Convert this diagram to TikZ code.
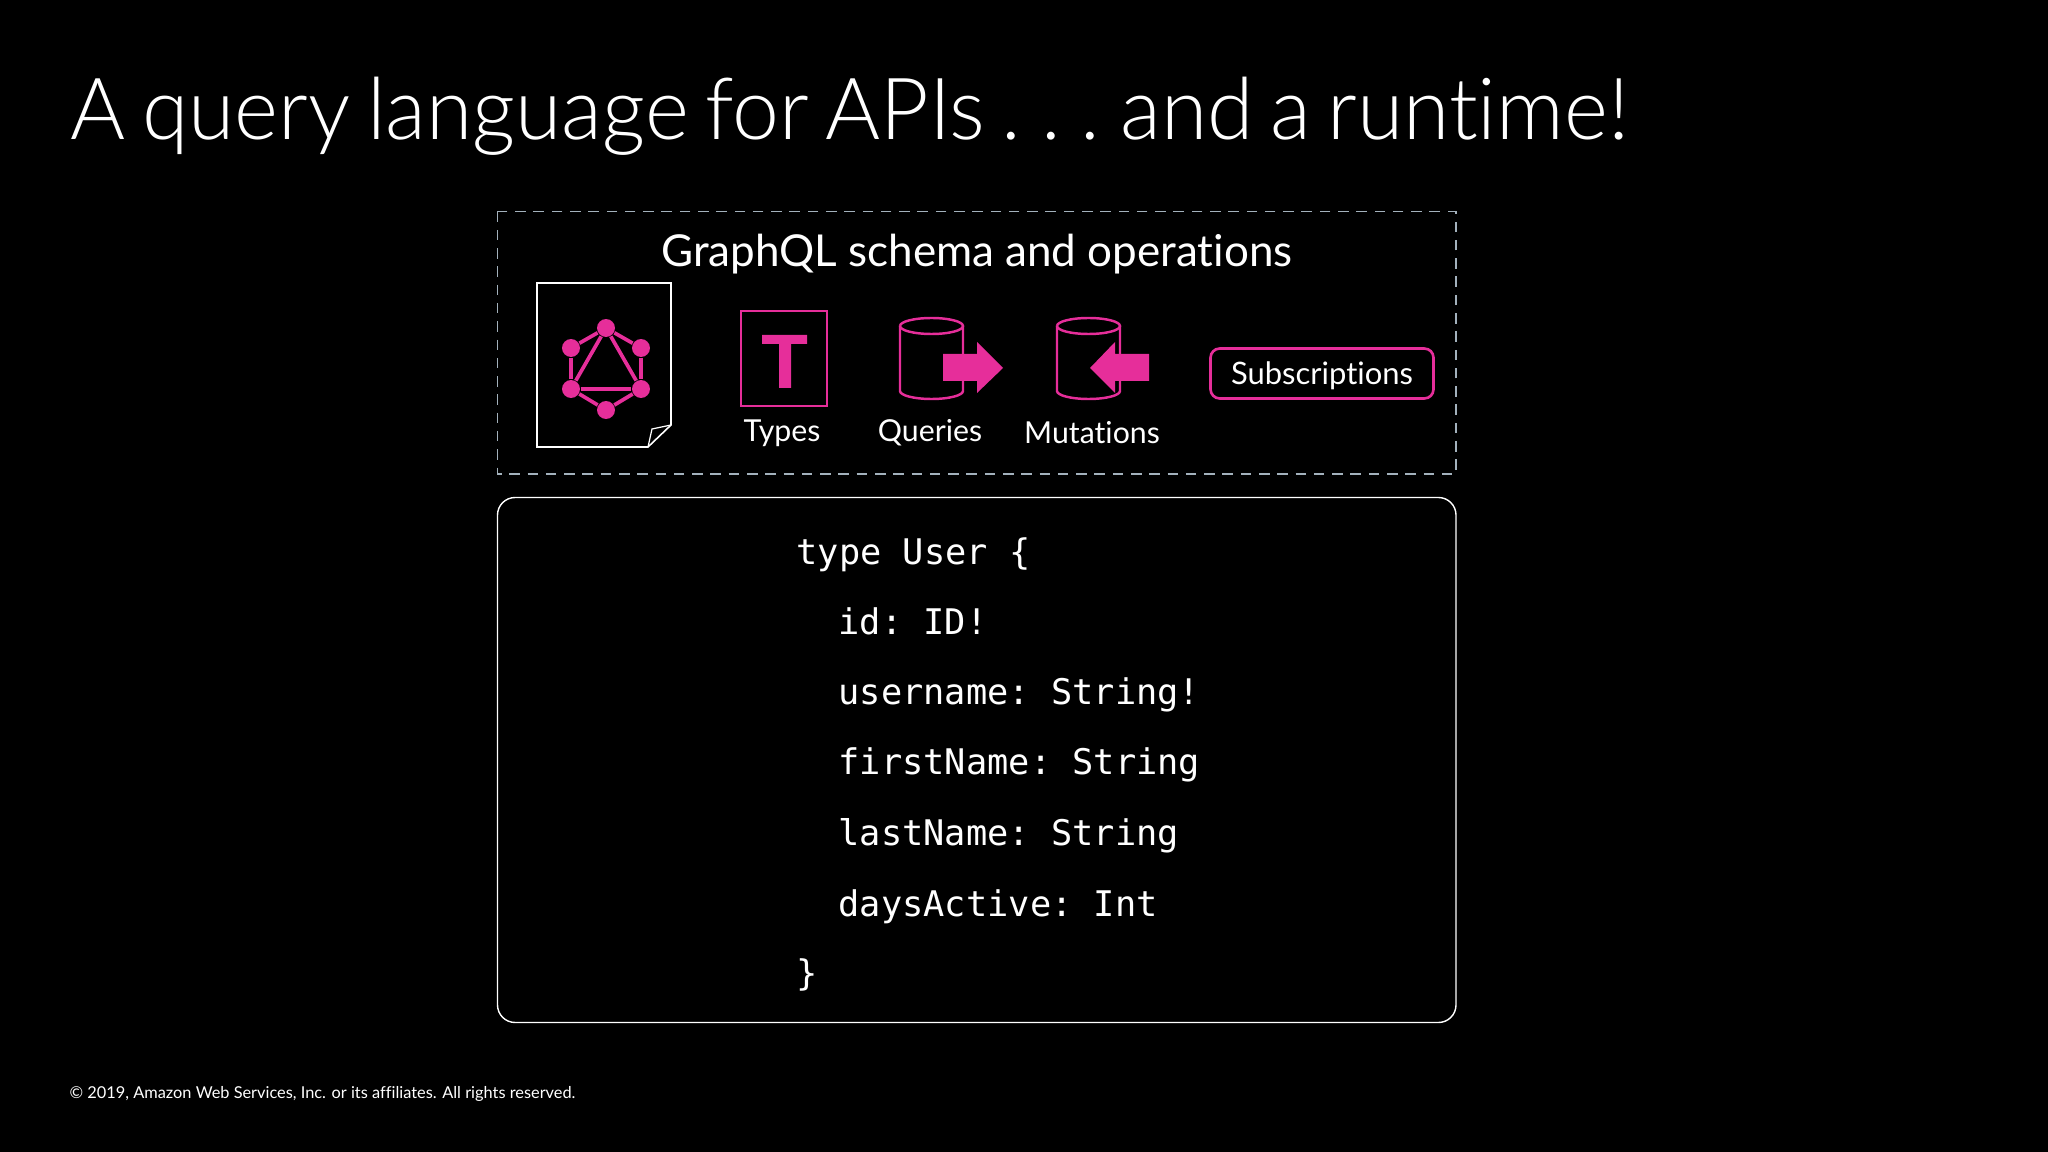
\documentclass[tikz,border=0pt]{standalone}
\usepackage{fontspec}
\setmainfont{Lato}[Ligatures=NoCommon]
\newfontfamily\titlefont{Lato Light}[Ligatures=NoCommon,FakeStretch=0.98,WordSpace=0.72]
\setmonofont{DejaVu Sans Mono}
\definecolor{gqlpink}{HTML}{E62E9A}
\definecolor{dashgray}{HTML}{A3B1BC}
\tikzset{
    dot/.style={circle,fill=gqlpink,inner sep=0pt,minimum size=5.1pt},
    iconlabel/.style={text=white,font=\fontsize{8.6}{10}\selectfont},
    codeline/.style={text=white,anchor=base west,inner sep=0pt,font=\ttfamily\fontsize{10.04}{12}\selectfont},
    spoke/.style={draw=gqlpink,line width=1.05pt},
    cylline/.style={draw=gqlpink,line width=0.7pt},
}
\begin{document}
\begin{tikzpicture}[x=0.01cm,y=-0.01cm]
        \useasboundingbox (0,0) rectangle (2048,1152);
        \fill[black] (0,0) rectangle (2048,1152);
        \node (title) [anchor=base west,inner sep=0pt,text=white,font=\titlefont\fontsize{24.4}{30}\selectfont] at (70,140) {A query language for APIs .\kern-1.2pt{} .\kern-1.2pt{} .\kern-1.2pt{} and a runtime!};
        \node (footer) [anchor=base west,inner sep=0pt,text=white,font=\fontsize{4.65}{6}\selectfont] at (69,1098) {© 2019, Amazon Web Services, Inc. or its affiliates. All rights reserved.};

        \draw[dashgray,dashed,line width=0.45pt,dash pattern=on 3pt off 2.2pt](497.5,211.5) rectangle (1456,474);
        \node (heading) [text=white,font=\fontsize{12.5}{14}\selectfont] at (977,254) {GraphQL schema and operations};

        \draw[white,line width=0.45pt](537,283)--(671,283)--(671,425)--(648,447)--(537,447)--cycle;
        \draw[white,line width=0.35pt](671,425)--(652,429)--(648,447);

        \node (top) [dot] at (606,328) {};
        \node (upleft) [dot] at (571,348) {};
        \node (upright) [dot] at (641,348) {};
        \node (lowleft) [dot] at (571,389) {};
        \node (lowright) [dot] at (641,389) {};
        \node (bottom) [dot] at (606,410) {};
        \draw[spoke](top)--(upright);
        \draw[spoke](upright)--(lowright);
        \draw[spoke](lowright)--(bottom);
        \draw[spoke](bottom)--(lowleft);
        \draw[spoke](lowleft)--(upleft);
        \draw[spoke](upleft)--(top);
        \draw[spoke](top)--(lowleft);
        \draw[spoke](lowleft)--(lowright);
        \draw[spoke](lowright)--(top);

        \draw[gqlpink,line width=0.7pt](741,311) rectangle (827,406);
        \fill[gqlpink](762,335)--(807,335)--(807,344)--(791,344)--(791,388)--(779,388)--(779,344)--(762,344)--cycle;
        \node (types) [iconlabel] at (782,433) {Types};

        \draw[cylline](900,326) arc (180:0:31.5 and 8) arc (0:-180:31.5 and 8);
        \draw[cylline](900,326)--(900,391) arc (180:0:31.5 and 8)--(963,326);
        \fill[gqlpink](943,354)--(977,354)--(977,342)--(1003,368)--(977,393)--(977,381)--(943,381)--cycle;
        \node (queries) [iconlabel] at (930,433) {Queries};

        \draw[cylline](1057,326) arc (180:0:31.5 and 8) arc (0:-180:31.5 and 8);
        \draw[cylline](1057,326)--(1057,391) arc (180:0:31.5 and 8)--(1120,326);
        \fill[gqlpink](1149,354)--(1115,354)--(1115,342)--(1090,368)--(1115,393)--(1115,381)--(1149,381)--cycle;
        \node (mutations) [iconlabel] at (1092,433) {Mutations};

        \node (subscriptions) [draw=gqlpink,line width=0.75pt,rounded corners=2.6pt,minimum width=63.4pt,minimum height=14.2pt,inner sep=0pt,text height=8pt,text depth=1.7pt,text=white,font=\fontsize{8.8}{10}\selectfont] at (1322,373.5) {Subscriptions};

        \draw[white,line width=0.4pt,rounded corners=5pt](497.5,497.5) rectangle (1456,1022.5);
        \node (open) [codeline] at (796,564) {type User \{};
        \node (id) [codeline] at (838,634) {id: ID!};
        \node (username) [codeline] at (838,704) {username: String!};
        \node (firstname) [codeline] at (838,774) {firstName: String};
        \node (lastname) [codeline] at (838,845) {lastName: String};
        \node (days) [codeline] at (838,916) {daysActive: Int};
        \node (close) [codeline] at (796,985) {\}};
    \end{tikzpicture}
\end{document}
